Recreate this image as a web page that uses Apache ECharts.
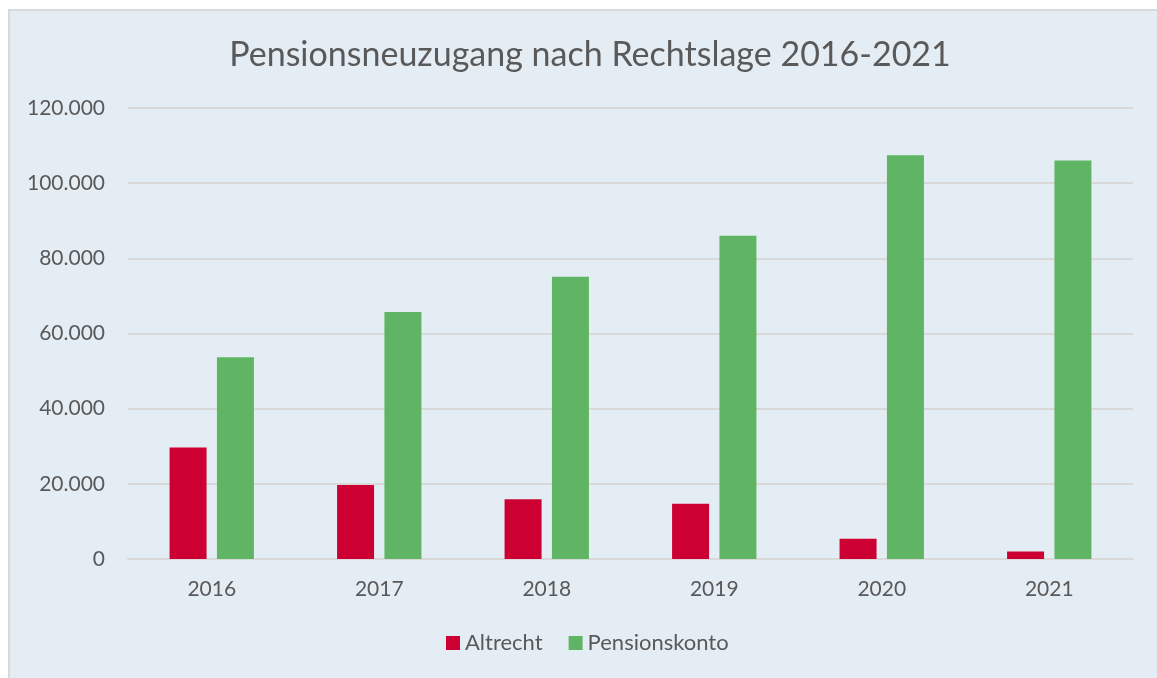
<!DOCTYPE html>
<html>
<head>
<meta charset="utf-8">
<script src="https://cdn.jsdelivr.net/npm/echarts@6/dist/echarts.min.js"></script>
<style type="text/css">
html, body{margin: 0; padding: 0; background: #ffffff; overflow: hidden;}
.box{position: absolute; left: 8px; top: 9px; width: 1170px; height: 700px; background: #e5edf4; border: 2px solid #d9d9d9; box-sizing: border-box;}
.charts{position: absolute; left: 0; top: 0; width: 1157px; height: 678px;}
</style>
</head>
<body>
<div class="box"></div>
<div class="charts" id="myChart"></div>
<script>
// Pensionsneuzugang nach Rechtslage
var years = ['2016', '2017', '2018', '2019', '2020', '2021'];
var altrecht = [29700, 19700, 15900, 14700, 5400, 2000];
var pensionskonto = [53700, 65700, 75100, 86000, 107400, 106000];
var yTicks = [0, 20000, 40000, 60000, 80000, 100000, 120000];

var textColor = '#595959';
var font = 'Lato';

function fmt(v){
    return String(v).replace(/\B(?=(\d{3})+(?!\d))/g, '.');
}

var options = {
    backgroundColor: 'transparent',
    animation: false,
    title: {
        text: 'Pensionsneuzugang nach Rechtslage 2016-2021',
        left: 585,
        textAlign: 'center',
        top: 33,
        textStyle: {fontFamily: font, fontSize: 34, fontWeight: 'normal', color: textColor}
    },
    legend: {
        data: ['Altrecht', 'Pensionskonto'],
        left: 446,
        top: 632,
        padding: 0,
        itemWidth: 14,
        itemHeight: 14,
        itemGap: 26,
        icon: 'rect',
        textStyle: {fontFamily: font, fontSize: 22, color: textColor}
    },
    grid: {left: 128, right: 24, top: 108, bottom: 119, containLabel: false},
    xAxis: {
        type: 'category',
        data: years,
        axisTick: {show: false},
        axisLine: {lineStyle: {color: '#d9d9d9', width: 2}},
        axisLabel: {fontFamily: font, fontSize: 21, color: textColor, margin: 20}
    },
    yAxis: {
        type: 'value',
        min: yTicks[0],
        max: yTicks[yTicks.length - 1],
        interval: yTicks[1] - yTicks[0],
        axisLine: {show: false},
        axisTick: {show: false},
        splitLine: {lineStyle: {color: '#d9d9d9', width: 2}},
        axisLabel: {fontFamily: font, fontSize: 21, color: textColor, margin: 23, formatter: fmt}
    },
    series: [{
        name: 'Altrecht',
        type: 'bar',
        data: altrecht,
        barWidth: 37,
        barGap: '28%',
        itemStyle: {color: '#cc0033'}
    }, {
        name: 'Pensionskonto',
        type: 'bar',
        data: pensionskonto,
        barWidth: 37,
        itemStyle: {color: '#60b564'}
    }]
};

var myChart = echarts.init(document.getElementById('myChart'));
myChart.setOption(options);
</script>
</body>
</html>
